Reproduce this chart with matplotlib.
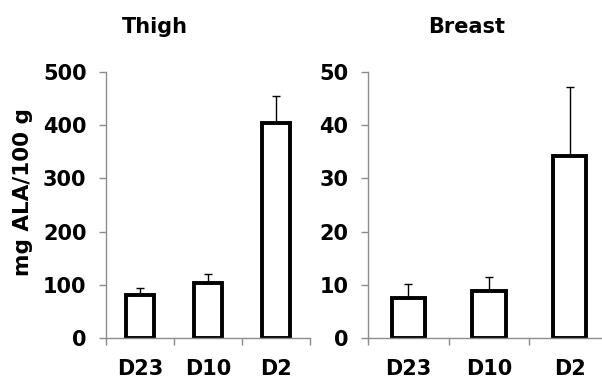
import numpy as np
import matplotlib
matplotlib.use("Agg")
import matplotlib.pyplot as plt

# datos
groups = ["D23", "D10", "D2"]
thigh_vals = [80, 103, 405]
thigh_err = [14, 17, 50]
breast_vals = [7.5, 8.8, 34.2]
breast_err = [2.65, 2.6, 12.9]

plt.rcParams["font.family"] = "DejaVu Sans"
plt.rcParams["font.weight"] = "bold"

fig = plt.figure(figsize=(6.02, 3.8), dpi=100)

W, H = 602, 380
axis_grey = "#8c8c8c"


def panel(rect, vals, errs, ymax, step):
    ax = fig.add_axes(rect)
    x = np.arange(len(groups))
    ax.bar(x, vals, width=0.41, color="white", edgecolor="black", linewidth=2.8,
           yerr=[np.zeros(len(errs)), errs], capsize=3,
           error_kw=dict(elinewidth=1.0, capthick=1.0, ecolor="black"), zorder=3)
    ax.set_xlim(-0.5, 2.5)
    ax.set_ylim(0, ymax)
    ax.set_yticks(np.arange(0, ymax + step / 2, step))
    ax.set_xticks(x)
    ax.set_xticklabels(groups)
    ax.set_xticks(np.arange(-0.5, 3, 1), minor=True)
    ax.tick_params(axis="x", which="major", length=0, pad=15, labelsize=15)
    ax.tick_params(axis="x", which="minor", length=5, width=1, color=axis_grey, direction="out")
    ax.tick_params(axis="y", length=5, width=1, color=axis_grey, direction="out", pad=9, labelsize=15)
    for s in ["top", "right"]:
        ax.spines[s].set_visible(False)
    for s in ["left", "bottom"]:
        ax.spines[s].set_color(axis_grey)
        ax.spines[s].set_linewidth(1)
    ax.spines["bottom"].set_zorder(4)
    return ax


bottom = 1 - 338 / H
height = (338 - 72) / H
ax1 = panel([106 / W, bottom, 204 / W, height], thigh_vals, thigh_err, 500, 100)
ax2 = panel([368 / W, bottom, 242 / W, height], breast_vals, breast_err, 50, 10)

fig.text(155 / W, 1 - 27 / H, "Thigh", ha="center", va="center", fontsize=15, fontweight="bold")
fig.text(467 / W, 1 - 27 / H, "Breast", ha="center", va="center", fontsize=15, fontweight="bold")
fig.text(23 / W, 1 - 192 / H, "mg ALA/100 g", ha="center", va="center", rotation=90,
         fontsize=15.5, fontweight="bold")

fig.savefig("out.png", dpi=100)
